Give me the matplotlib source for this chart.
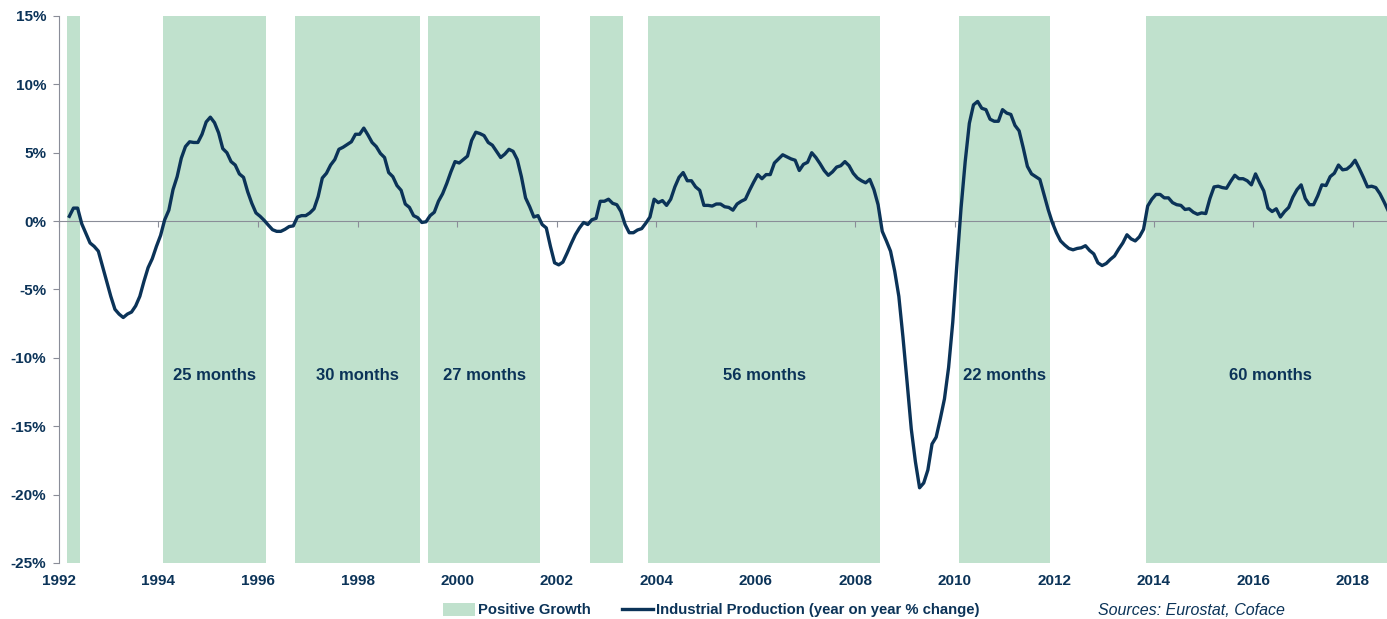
import numpy as np
import matplotlib
matplotlib.use('Agg')
import matplotlib.pyplot as plt
from matplotlib.patches import Patch
from matplotlib.lines import Line2D

plt.rcParams['font.family'] = ['Liberation Sans', 'DejaVu Sans']

# monthly industrial production, y/y % change, starting March 1992
first_month = '1992-03'
ip_yoy = [
    0.35, 0.95, 0.95, -0.2, -0.9, -1.6, -1.85, -2.2, -3.3, -4.4,                # 1992 (Mar-Dec)
    -5.5, -6.45, -6.8, -7.05, -6.8, -6.65, -6.2, -5.5, -4.4, -3.4, -2.75, -1.85,  # 1993
    -1.05, 0.1, 0.8, 2.3, 3.25, 4.6, 5.45, 5.8, 5.75, 5.75, 6.35, 7.25,          # 1994
    7.6, 7.2, 6.45, 5.3, 5.0, 4.35, 4.1, 3.45, 3.2, 2.15, 1.3, 0.6,              # 1995
    0.35, 0.05, -0.3, -0.63, -0.75, -0.75, -0.6, -0.4, -0.35, 0.3, 0.4, 0.4,     # 1996
    0.6, 0.9, 1.8, 3.15, 3.5, 4.1, 4.5, 5.25, 5.4, 5.6, 5.8, 6.35,               # 1997
    6.35, 6.8, 6.3, 5.75, 5.45, 4.95, 4.65, 3.55, 3.25, 2.6, 2.25, 1.25,         # 1998
    1.0, 0.4, 0.25, -0.1, -0.05, 0.4, 0.65, 1.45, 2.0, 2.75, 3.6, 4.35,          # 1999
    4.25, 4.5, 4.75, 5.9, 6.5, 6.4, 6.25, 5.75, 5.55, 5.1, 4.65, 4.9,            # 2000
    5.25, 5.1, 4.5, 3.25, 1.7, 1.05, 0.3, 0.4, -0.25, -0.5, -1.85, -3.05,        # 2001
    -3.2, -3.0, -2.35, -1.65, -1.0, -0.5, -0.1, -0.25, 0.1, 0.2, 1.45, 1.45,     # 2002
    1.6, 1.3, 1.2, 0.7, -0.25, -0.85, -0.85, -0.65, -0.55, -0.15, 0.3, 1.6,      # 2003
    1.35, 1.5, 1.15, 1.6, 2.5, 3.2, 3.55, 2.95, 2.95, 2.5, 2.25, 1.15,           # 2004
    1.15, 1.1, 1.25, 1.25, 1.05, 1.0, 0.8, 1.25, 1.45, 1.6, 2.25, 2.85,          # 2005
    3.4, 3.1, 3.4, 3.4, 4.25, 4.55, 4.85, 4.7, 4.55, 4.45, 3.7, 4.15,            # 2006
    4.3, 5.0, 4.65, 4.2, 3.7, 3.35, 3.6, 3.95, 4.05, 4.35, 4.05, 3.5,            # 2007
    3.15, 2.95, 2.8, 3.05, 2.3, 1.2, -0.75, -1.45, -2.2, -3.65, -5.5, -8.5,      # 2008
    -11.8, -15.2, -17.6, -19.5, -19.15, -18.2, -16.3, -15.8, -14.45, -13.0, -10.7, -7.4,  # 2009
    -3.15, 0.95, 4.35, 7.15, 8.5, 8.75, 8.25, 8.15, 7.45, 7.3, 7.3, 8.15,        # 2010
    7.9, 7.8, 7.0, 6.6, 5.35, 4.0, 3.45, 3.25, 3.05, 1.95, 0.85, -0.1,           # 2011
    -0.85, -1.45, -1.75, -2.0, -2.1, -2.0, -1.95, -1.8, -2.15, -2.4, -3.05, -3.25,  # 2012
    -3.1, -2.8, -2.55, -2.05, -1.6, -1.0, -1.3, -1.45, -1.15, -0.6, 1.1, 1.6,    # 2013
    1.95, 1.95, 1.7, 1.7, 1.35, 1.2, 1.15, 0.85, 0.9, 0.65, 0.5, 0.6,            # 2014
    0.55, 1.65, 2.5, 2.55, 2.45, 2.4, 2.9, 3.35, 3.1, 3.1, 2.95, 2.65,           # 2015
    3.45, 2.8, 2.2, 0.95, 0.7, 0.9, 0.3, 0.7, 1.0, 1.75, 2.3, 2.65,              # 2016
    1.65, 1.2, 1.2, 1.85, 2.65, 2.6, 3.25, 3.5, 4.1, 3.75, 3.8, 4.05,            # 2017
    4.45, 3.85, 3.2, 2.5, 2.55, 2.45, 2.0, 1.4, 0.75,                            # 2018 (Jan-Sep)
]

# periods of positive growth (first and last month, inclusive)
growth_start = ['1992-03', '1994-02', '1996-10', '1999-06', '2002-09', '2003-11', '2010-02', '2013-11']
growth_end = ['1992-05', '1996-02', '1999-03', '2001-08', '2003-04', '2008-06', '2011-11', '2018-10']
growth_label = ['', '25 months', '30 months', '27 months', '', '56 months', '22 months', '60 months']

year_ticks = list(range(1992, 2019, 2))
y_ticks = [-25, -20, -15, -10, -5, 0, 5, 10, 15]

navy = '#0b3358'
green = '#c0e1cd'
gray = '#8a8d98'


def month_idx(s):
    y, m = map(int, s.split('-'))
    return (y - 1992) * 12 + m - 1


x = month_idx(first_month) + np.arange(len(ip_yoy)) + 0.5

fig = plt.figure(figsize=(13.87, 6.19), dpi=100)
ax = fig.add_axes([0.0425, 0.0905, 0.9575, 0.8837])

for s, e, lab in zip(growth_start, growth_end, growth_label):
    x0, x1 = month_idx(s), month_idx(e) + 1
    ax.axvspan(x0, x1, color=green, lw=0, zorder=0)
    if lab:
        ax.text((x0 + x1) / 2, -11.3, lab, ha='center', va='center',
                fontsize=12, fontweight='bold', color=navy, zorder=4)

ax.plot(x, ip_yoy, color=navy, lw=2.4, zorder=3, solid_joinstyle='round')

ax.set_xlim(0, 320.2)
ax.set_ylim(-25, 15)

tick_pos = [(yr - 1992) * 12 for yr in year_ticks]
ax.set_xticks(tick_pos)
ax.tick_params(axis='x', direction='out', length=4, color=gray, labelbottom=False)
ax.spines['bottom'].set_position(('data', 0))
ax.spines['bottom'].set_color(gray)
ax.spines['bottom'].set_zorder(2)

sec = ax.secondary_xaxis('bottom')
sec.set_xticks(tick_pos, [str(yr) for yr in year_ticks])
sec.tick_params(length=0, pad=8, labelsize=11, labelcolor=navy)
for lbl in sec.get_xticklabels():
    lbl.set_fontweight('bold')
sec.spines['bottom'].set_visible(False)

ax.set_yticks(y_ticks, [f'{v}%' for v in y_ticks])
ax.tick_params(axis='y', direction='out', length=4, color=gray, pad=5,
               labelsize=11, labelcolor=navy)
for lbl in ax.get_yticklabels():
    lbl.set_fontweight('bold')
ax.spines['left'].set_color(gray)
ax.spines['top'].set_visible(False)
ax.spines['right'].set_visible(False)

handles = [Patch(facecolor=green, edgecolor='none', label='Positive Growth'),
           Line2D([], [], color=navy, lw=2.4, label='Industrial Production (year on year % change)')]
leg = fig.legend(handles=handles, loc='center', bbox_to_anchor=(0.513, 0.0145), ncol=2,
                 frameon=False, borderpad=0, handlelength=2.1, handleheight=1.0,
                 handletextpad=0.2, columnspacing=2.1,
                 prop={'weight': 'bold', 'size': 10.75})
for t in leg.get_texts():
    t.set_color(navy)

fig.text(0.7917, 0.0145, 'Sources: Eurostat, Coface', ha='left', va='center',
         fontsize=11.5, style='italic', color=navy)

fig.savefig('out.png', dpi=100)
